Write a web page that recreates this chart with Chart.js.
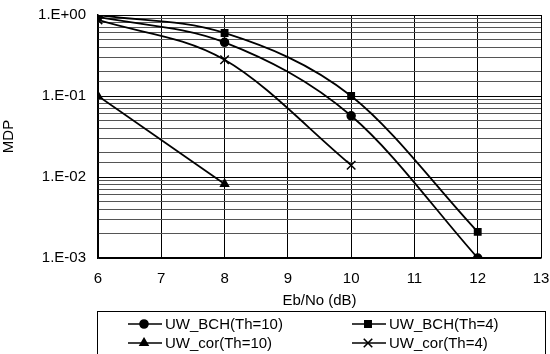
<!DOCTYPE html>
<html lang="en">
<head>
  <meta charset="UTF-8">
  <title>MDP vs Eb/No</title>
  <style>
    html, body { margin: 0; padding: 0; background: #fff; }
    #wrap { width: 550px; height: 354px; }
  </style>
</head>
<body>
<div id="wrap"><canvas id="mdpChart" width="550" height="354"></canvas></div>

<script src="https://cdn.jsdelivr.net/npm/chart.js"></script>
<script>
  // x positions (dB)
  const ebNo = [6, 8, 10, 12];
  const ebNoCor = [6, 8];
  const ebNoCor4 = [6, 8, 10];

  // MDP values
  const bchTh10 = [0.95, 0.46, 0.057, 0.001];
  const bchTh4 = [1.0, 0.6, 0.1, 0.0021];
  const corTh10 = [0.1, 0.0082];
  const corTh4 = [0.87, 0.28, 0.014];

  const seriesNames = ['UW_BCH(Th=10)', 'UW_BCH(Th=4)', 'UW_cor(Th=10)', 'UW_cor(Th=4)'];
  const xTicks = [6, 7, 8, 9, 10, 11, 12, 13];

  function pts(xs, ys) {
    return xs.map((x, i) => ({ x: x, y: ys[i] }));
  }

  function line(label, data, style, radius) {
    return {
      label: label,
      data: data,
      borderColor: '#000',
      backgroundColor: '#000',
      borderWidth: 1.8,
      pointStyle: style,
      pointRadius: radius,
      pointBorderWidth: 1.5,
      cubicInterpolationMode: 'monotone',
      fill: false
    };
  }

  function sciLabel(v) {
    const e = Math.round(Math.log10(v));
    if (Math.abs(Math.log10(v) - e) > 1e-9) return '';
    const sign = e < 0 ? '-' : '+';
    const n = String(Math.abs(e)).padStart(2, '0');
    return '1.E' + sign + n;
  }

  function isDecade(v) {
    const l = Math.log10(v);
    return Math.abs(l - Math.round(l)) < 1e-9;
  }

  // legend drawn in a box below the plot, two columns
  const boxLegend = {
    id: 'boxLegend',
    afterDraw(chart) {
      const ctx = chart.ctx;
      ctx.save();
      ctx.strokeStyle = '#000';
      ctx.lineWidth = 1;
      ctx.strokeRect(97.5, 311.5, 448, 60);

      const cols = [128, 352];
      const rows = [324, 343];
      ctx.font = '15px "Liberation Sans", Arial, sans-serif';
      ctx.fillStyle = '#000';
      ctx.textBaseline = 'middle';
      chart.data.datasets.forEach((ds, k) => {
        const x = cols[k % 2];
        const y = rows[Math.floor(k / 2)];
        ctx.beginPath();
        ctx.moveTo(x, y);
        ctx.lineTo(x + 34, y);
        ctx.lineWidth = 1.6;
        ctx.stroke();
        Chart.helpers.drawPoint(ctx, {
          pointStyle: ds.pointStyle,
          radius: ds.pointRadius,
          borderWidth: 1.5,
          rotation: 0
        }, x + 16, y);
        ctx.fillText(ds.label, x + 37, y + 1);
      });
      ctx.restore();
    }
  };

  const ctx = document.getElementById('mdpChart').getContext('2d');
  new Chart(ctx, {
    type: 'line',
    data: {
      datasets: [
        line(seriesNames[0], pts(ebNo, bchTh10), 'circle', 4),
        line(seriesNames[1], pts(ebNo, bchTh4), 'rect', 4.5),
        line(seriesNames[2], pts(ebNoCor, corTh10), 'triangle', 4.5),
        line(seriesNames[3], pts(ebNoCor4, corTh4), 'crossRot', 6)
      ]
    },
    options: {
      responsive: false,
      animation: false,
      layout: { padding: { top: 15, right: 9, left: 0, bottom: 44 } },
      plugins: {
        legend: { display: false },
        tooltip: { enabled: false }
      },
      scales: {
        x: {
          type: 'linear',
          min: 6,
          max: 13,
          afterBuildTicks(scale) {
            scale.ticks = xTicks.map(v => ({ value: v }));
          },
          afterFit(scale) {
            scale.height = 52;
            scale.paddingRight = 0;
            scale.paddingLeft = 0;
          },
          ticks: {
            color: '#000',
            padding: 12,
            font: { family: '"Liberation Sans", Arial, sans-serif', size: 15 },
            maxRotation: 0
          },
          grid: {
            color: '#000',
            lineWidth: 1,
            drawTicks: false
          },
          border: { color: '#000', width: 1.5 },
          title: {
            display: true,
            text: 'Eb/No (dB)',
            color: '#000',
            font: { family: '"Liberation Sans", Arial, sans-serif', size: 15 },
            padding: { top: 0, bottom: 0 }
          }
        },
        y: {
          type: 'logarithmic',
          min: 0.001,
          max: 1,
          afterFit(scale) {
            scale.width = 98;
            scale.paddingTop = 0;
            scale.paddingBottom = 0;
          },
          ticks: {
            color: '#000',
            padding: 12,
            autoSkip: false,
            font: { family: '"Liberation Sans", Arial, sans-serif', size: 15 },
            callback: (v) => sciLabel(v)
          },
          grid: {
            drawTicks: false,
            color: (c) => (c.tick && isDecade(c.tick.value)) ? '#000' : '#555'
          },
          border: { color: '#000', width: 1.5 },
          title: {
            display: true,
            text: 'MDP',
            color: '#000',
            font: { family: '"Liberation Sans", Arial, sans-serif', size: 15 },
            padding: { top: 0, bottom: 4 }
          }
        }
      }
    },
    plugins: [boxLegend]
  });
</script>
</body>
</html>
